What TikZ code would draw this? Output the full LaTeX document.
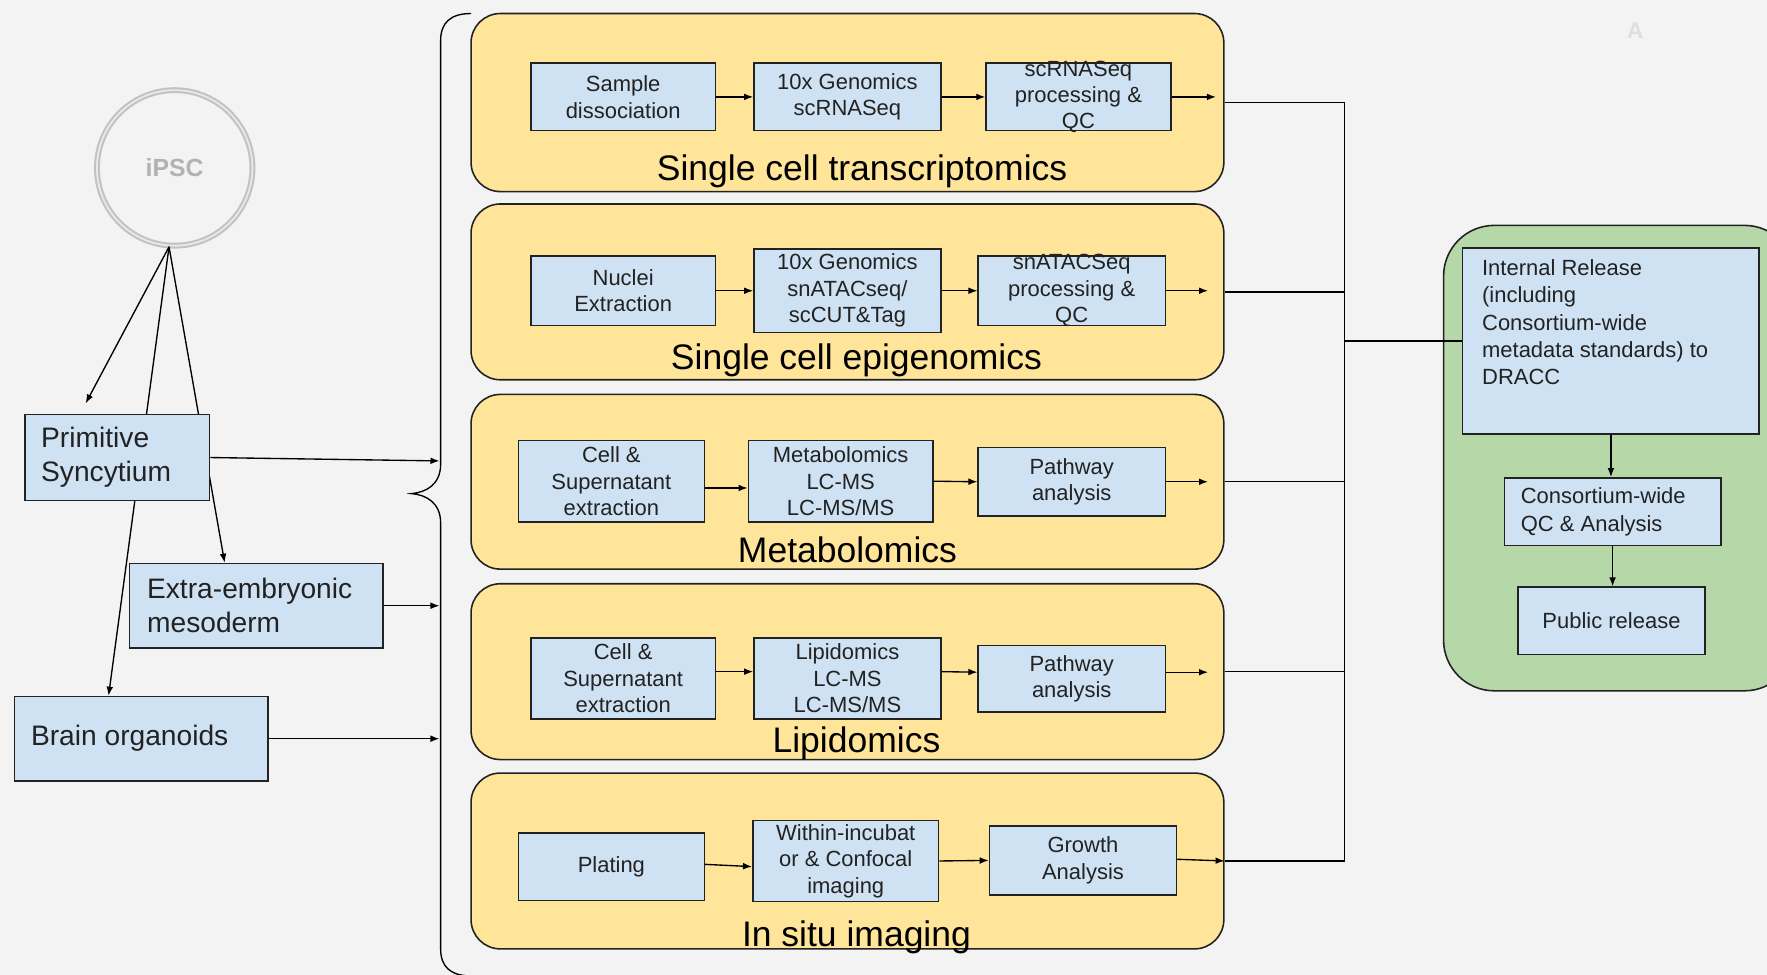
\documentclass[tikz,border=0pt]{standalone}
\usepackage{fontspec}
\setmainfont{Liberation Sans}
\usetikzlibrary{arrows.meta}
\definecolor{bg}{HTML}{F3F3F3}
\definecolor{yel}{HTML}{FFE599}
\definecolor{blu}{HTML}{CFE2F3}
\definecolor{grn}{HTML}{B6D7A8}
\definecolor{ring}{HTML}{C2C2C2}
\definecolor{ringin}{HTML}{E8E8E8}
\definecolor{ink}{HTML}{222222}
\definecolor{wmark}{HTML}{DCDEE4}
\begin{document}
\begin{tikzpicture}[x=1pt,y=-1pt,
  panel/.style={draw=ink, fill=yel, rounded corners=26pt, line width=1.4pt, minimum width=668pt, inner sep=0pt},
  bx/.style={draw=ink, fill=blu, line width=1.3pt, inner sep=0pt},
  lbl/.style={font=\fontsize{19.5}{23.5}\selectfont, align=center, text=ink, inner sep=0pt},
  lbll/.style={font=\fontsize{19.5}{24.3}\selectfont, align=left, text=ink, inner sep=0pt},
  big/.style={font=\fontsize{25}{30}\selectfont, align=left, text=ink, inner sep=0pt},
  ttl/.style={font=\fontsize{31.5}{36}\selectfont, text=black, inner sep=0pt, anchor=base},
  conn/.style={line width=1.2pt, draw=black},
  arr/.style={conn, -{Latex[length=8pt,width=6pt]}}]
\clip (0,0) rectangle (1568,865);
\fill[bg] (0,0) rectangle (1568,865);

% watermark letter
\node[font=\bfseries\fontsize{20}{24}\selectfont, text=wmark] (wm) at (1451,27) {A};

% iPSC
\node[circle, draw=ring, line width=1.8pt, double=ringin, double distance=1.6pt, minimum size=138pt, inner sep=0pt,
      label={[font=\bfseries\fontsize{22}{26}\selectfont, text=black!30]center:iPSC}] (ipsc) at (155,149) {};
\coordinate (ib) at (150,219);
\coordinate (fa) at (76,358);

% left boxes
\node[bx, minimum width=225pt, minimum height=75pt,
      label={[big, anchor=west, xshift=16pt]west:{Extra-embryonic\\mesoderm}}] (ee) at (227.5,537.5) {};
\node[bx, minimum width=225pt, minimum height=75pt,
      label={[big, anchor=west, xshift=15pt]west:{Brain organoids}}] (bo) at (125.5,655.5) {};
\draw[arr] (ib) -- (fa);
\draw[arr] (ib) -- ([xshift=85pt]ee.north west);
\draw[arr] (ib) -- ([xshift=84pt]bo.north west);
\node[bx, minimum width=164pt, minimum height=76pt,
      label={[big, anchor=west, xshift=15pt]west:{Primitive\\Syncytium}}] (ps) at (104,406) {};

% brace
\draw[conn] (418,12) .. controls (400,12) and (391,20) .. (391,36) -- (391,412)
  .. controls (391,430) and (378,437) .. (365,438)
  .. controls (378,439) and (391,446) .. (391,464) -- (391,842)
  .. controls (391,858) and (400,866) .. (418,866);
\coordinate (brc) at (390,0);
\draw[arr] (ps.east) -- ([yshift=-3pt]ps.east -| brc);
\draw[arr] (ee.east) -- (ee.east -| brc);
\draw[arr] (bo.east) -- (bo.east -| brc);

% panels
\node[panel, minimum height=158pt] (p1) at (752,91) {};
\node[panel, minimum height=156pt] (p2) at (752,259) {};
\node[panel, minimum height=155pt] (p3) at (752,427.5) {};
\node[panel, minimum height=156pt] (p4) at (752,596) {};
\node[panel, minimum height=156pt] (p5) at (752,764) {};

\node[ttl] (t1) at (765,160) {Single cell transcriptomics};
\node[ttl] (t2) at (760,328) {Single cell epigenomics};
\node[ttl] (t3) at (752,499) {Metabolomics};
\node[ttl] (t4) at (760,668) {Lipidomics};
\node[ttl] (t5) at (760,840) {In situ imaging};

\coordinate (re1) at (1079,0);
\coordinate (re) at (1072,0);

% row 1
\node[bx, minimum width=164pt, minimum height=60pt, label={[lbl]center:{Sample\\dissociation}}] (a1) at (553,86) {};
\node[bx, minimum width=166pt, minimum height=60pt, label={[lbl]center:{10x Genomics\\scRNASeq}}] (a2) at (752,86) {};
\node[bx, minimum width=164pt, minimum height=60pt, label={[lbl]center:{scRNASeq\\processing \&\\QC}}] (a3) at (957,86) {};
\draw[arr] (a1.east) -- (a2.west);
\draw[arr] (a2.east) -- (a3.west);
\draw[arr] (a3.east) -- (a3.east -| re1);

% row 2
\node[bx, minimum width=164pt, minimum height=62pt, label={[lbl]center:{Nuclei\\Extraction}}] (b1) at (553,258) {};
\node[bx, minimum width=166pt, minimum height=74pt, label={[lbl]center:{10x Genomics\\snATACseq/\\scCUT\&Tag}}] (b2) at (752,258) {};
\node[bx, minimum width=166pt, minimum height=62pt, label={[lbl]center:{snATACSeq\\processing \&\\QC}}] (b3) at (951,258) {};
\draw[arr] (b1.east) -- (b2.west);
\draw[arr] (b2.east) -- (b3.west);
\draw[arr] (b3.east) -- (b3.east -| re);

% row 3
\node[bx, minimum width=165pt, minimum height=72pt, label={[lbl]center:{Cell \&\\Supernatant\\extraction}}] (m1) at (542.5,427) {};
\node[bx, minimum width=164pt, minimum height=72pt, label={[lbl]center:{Metabolomics\\LC-MS\\LC-MS/MS}}] (m2) at (746,427) {};
\node[bx, minimum width=166pt, minimum height=61pt, label={[lbl]center:{Pathway\\analysis}}] (m3) at (951,427.5) {};
\draw[arr] ([yshift=-6pt]m1.east) -- ([yshift=-6pt]m2.west);
\draw[arr] (m2.east) -- (m3.west);
\draw[arr] (m3.east) -- (m3.east -| re);

% row 4
\node[bx, minimum width=164pt, minimum height=72pt, label={[lbl]center:{Cell \&\\Supernatant\\extraction}}] (l1) at (553,602) {};
\node[bx, minimum width=166pt, minimum height=72pt, label={[lbl]center:{Lipidomics\\LC-MS\\LC-MS/MS}}] (l2) at (752,602) {};
\node[bx, minimum width=166pt, minimum height=59pt, label={[lbl]center:{Pathway\\analysis}}] (l3) at (951,602.5) {};
\draw[arr] ([yshift=6pt]l1.east) -- ([yshift=6pt]l2.west);
\draw[arr] ([yshift=6pt]l2.east) -- ([yshift=6pt]l3.west);
\draw[arr] ([yshift=6pt]l3.east) -- ([yshift=6pt]l3.east -| re);

% row 5
\node[bx, minimum width=165pt, minimum height=60pt, label={[lbl]center:{Plating}}] (g1) at (542.5,769) {};
\node[bx, minimum width=165pt, minimum height=72pt, label={[lbl]center:{Within-incubat\\or \& Confocal\\imaging}}] (g2) at (750.5,764) {};
\node[bx, minimum width=166pt, minimum height=61pt, label={[lbl]center:{Growth\\Analysis}}] (g3) at (961,763.5) {};
\draw[arr] ([yshift=2pt]g1.east) -- ([yshift=-5pt]g2.west);
\draw[arr] (g2.east) -- (g3.west);
\draw[arr] ([yshift=1pt]g3.east) -- (p5.east);

% right group
\node[draw=ink, fill=grn, line width=1.4pt, rounded corners=45pt, minimum width=312pt, minimum height=413pt, inner sep=0pt] (gr) at (1437,406.5) {};
\node[bx, minimum width=263pt, minimum height=165pt] (ir) at (1429.5,302.5) {};
\node[lbll, anchor=north west] (irt) at (1315,230) {Internal Release\\(including\\Consortium-wide\\metadata standards) to\\DRACC};
\node[bx, minimum width=192pt, minimum height=60pt,
      label={[lbll, anchor=west, xshift=15pt]west:{Consortium-wide\\QC \& Analysis}}] (cq) at (1431,454) {};
\node[bx, minimum width=166pt, minimum height=60pt, label={[lbl]center:{Public release}}] (pr) at (1430,551) {};
\draw[arr] (ir.south) -- (ir.south |- cq.north);
\draw[arr] (cq.south) -- (cq.south |- pr.north);

% bus
\coordinate (bus) at (1193,0);
\draw[conn] (p1.east) -- (p1.east -| bus) -- (p5.east -| bus) -- (p5.east);
\draw[conn] (p2.east) -- (p2.east -| bus);
\draw[conn] (p3.east) -- (p3.east -| bus);
\draw[conn] (p4.east) -- (p4.east -| bus);
\draw[conn] (ir.west -| bus) -- (ir.west);
\end{tikzpicture}
\end{document}
